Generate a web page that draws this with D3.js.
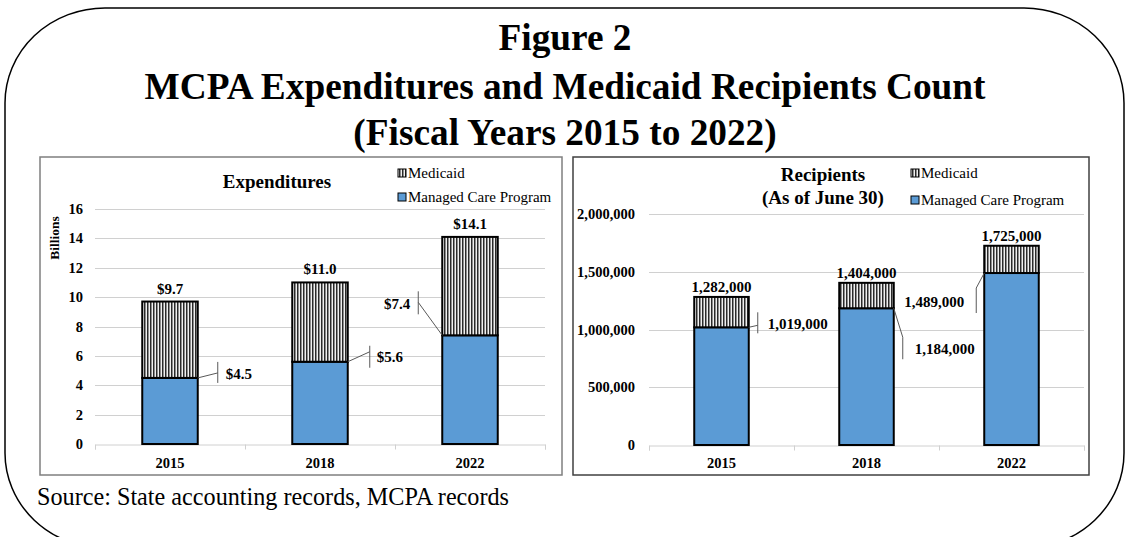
<!DOCTYPE html>
<html>
<head>
<meta charset="utf-8">
<script src="https://cdn.jsdelivr.net/npm/d3@7"></script>
<style>
html,body{margin:0;padding:0;background:#fff;}
svg{display:block;}
text{font-family:"Liberation Serif","Times New Roman",serif;}
</style>
</head>
<body>
<svg id="chart" width="1129" height="537"></svg>
<script>
// ---------------- DATA ----------------
const years = ["2015", "2018", "2022"];
const seriesNames = ["Medicaid", "Managed Care Program"];
// Expenditures (billions)
const expManagedCare = [4.5, 5.6, 7.4];
const expMedicaid = [5.2, 5.4, 6.7];
const expTotals = [9.7, 11.0, 14.1];
const expTicks = [0, 2, 4, 6, 8, 10, 12, 14, 16];
// Recipients (as of June 30)
const recManagedCare = [1019000, 1184000, 1489000];
const recMedicaid = [263000, 220000, 236000];
const recTotals = [1282000, 1404000, 1725000];
const recTicks = [0, 500000, 1000000, 1500000, 2000000];

const titleLines = ["Figure 2", "MCPA Expenditures and Medicaid Recipients Count", "(Fiscal Years 2015 to 2022)"];
const sourceText = "Source: State accounting records, MCPA records";

// ---------------- SETUP ----------------
const svg = d3.select("#chart");
const BLUE = "#5b9bd5";

const defs = svg.append("defs");
const pat = defs.append("pattern").attr("id", "vstripe")
  .attr("patternUnits", "userSpaceOnUse").attr("width", 3).attr("height", 4);
pat.append("rect").attr("width", 3).attr("height", 4).attr("fill", "#f0f0f0");
pat.append("rect").attr("width", 1.5).attr("height", 4).attr("fill", "#2a2a2a");

svg.append("rect").attr("width", 1129).attr("height", 537).attr("fill", "#fff");

// outer rounded frame
svg.append("rect").attr("x", 5).attr("y", 8).attr("width", 1119).attr("height", 540)
  .attr("rx", 100).attr("ry", 95).attr("fill", "none").attr("stroke", "#000").attr("stroke-width", 1.5);

// main titles
const titleBaselines = [50, 99, 145];
svg.selectAll("text.maintitle").data(titleLines).join("text")
  .attr("class", "maintitle")
  .attr("x", 565).attr("y", (d, i) => titleBaselines[i])
  .attr("text-anchor", "middle").attr("font-weight", "bold").attr("font-size", 37.3)
  .attr("fill", "#000").text(d => d);

svg.append("text").attr("x", 37).attr("y", 505).attr("font-size", 24.2)
  .attr("fill", "#000").text(sourceText);

// ---------------- PANEL BUILDER ----------------
function panel(cfg) {
  const g = svg.append("g");
  g.append("rect").attr("x", cfg.box[0]).attr("y", cfg.box[1])
    .attr("width", cfg.box[2]).attr("height", cfg.box[3])
    .attr("fill", "#fff").attr("stroke", cfg.boxStroke).attr("stroke-width", 1.5);

  const x = d3.scaleBand().domain(years).range([cfg.plot[0], cfg.plot[1]]).paddingInner(cfg.pad).paddingOuter(cfg.pad / 2);
  const band = d3.scaleBand().domain(years).range([cfg.plot[0], cfg.plot[1]]);
  const y = d3.scaleLinear().domain([cfg.ticks[0], cfg.ticks[cfg.ticks.length - 1]]).range([cfg.plot[2], cfg.plot[3]]);

  // gridlines
  g.selectAll("line.grid").data(cfg.ticks.slice(1)).join("line")
    .attr("x1", cfg.plot[0]).attr("x2", cfg.plot[1])
    .attr("y1", d => Math.round(y(d)) + 0.5).attr("y2", d => Math.round(y(d)) + 0.5)
    .attr("stroke", "#d0d0d0").attr("stroke-width", 1);

  // y tick labels
  g.selectAll("text.ytick").data(cfg.ticks).join("text")
    .attr("x", cfg.yLabelX).attr("y", d => y(d) + 5)
    .attr("text-anchor", "end").attr("font-weight", "bold").attr("font-size", 14.5)
    .text(d => cfg.tickFmt(d));

  // x axis
  const xAxis = d3.axisBottom(band).tickSize(5).tickFormat("");
  const ax = g.append("g").attr("transform", `translate(0,${Math.round(y(0)) + 0.5})`).call(xAxis);
  ax.select(".domain").attr("stroke", "#d0d0d0");
  ax.selectAll(".tick").remove();
  const bounds = years.map(d => band(d)).concat([cfg.plot[1]]);
  ax.selectAll("line.btick").data(bounds).join("line")
    .attr("x1", d => Math.round(d) + 0.5).attr("x2", d => Math.round(d) + 0.5)
    .attr("y1", 0).attr("y2", 5).attr("stroke", "#d0d0d0");

  g.selectAll("text.xtick").data(years).join("text")
    .attr("x", d => band(d) + band.bandwidth() / 2).attr("y", cfg.xLabelY)
    .attr("text-anchor", "middle").attr("font-weight", "bold").attr("font-size", 14.5)
    .text(d => d);

  // stacked bars
  const rows = years.map((yr, i) => ({ year: yr, "Managed Care Program": cfg.base[i], "Medicaid": cfg.top[i] }));
  const stacked = d3.stack().keys(["Managed Care Program", "Medicaid"])(rows);
  g.selectAll("g.series").data(stacked).join("g")
    .attr("fill", d => d.key === "Medicaid" ? "url(#vstripe)" : BLUE)
    .selectAll("rect").data(d => d).join("rect")
    .attr("x", d => x(d.data.year)).attr("width", x.bandwidth())
    .attr("y", d => y(d[1])).attr("height", d => y(d[0]) - y(d[1]))
    .attr("stroke", "#000").attr("stroke-width", 2);

  // total labels
  g.selectAll("text.total").data(cfg.totals).join("text")
    .attr("x", (d, i) => x(years[i]) + x.bandwidth() / 2)
    .attr("y", d => y(d) - cfg.totalOffset + 5)
    .attr("text-anchor", "middle").attr("font-weight", "bold").attr("font-size", 15)
    .text(d => cfg.totalFmt(d));

  // callouts for base segment
  cfg.base.forEach((v, i) => {
    const c = cfg.callouts[i];
    const ax0 = c.side === "right" ? x(years[i]) + x.bandwidth() : x(years[i]);
    const ay0 = y(v);
    const tx = ax0 + c.tickDx;
    g.append("line").attr("x1", ax0).attr("y1", ay0).attr("x2", tx).attr("y2", ay0 + c.joinDy)
      .attr("stroke", "#595959").attr("stroke-width", 1);
    g.append("line").attr("x1", tx).attr("x2", tx)
      .attr("y1", ay0 + c.tickDy[0]).attr("y2", ay0 + c.tickDy[1])
      .attr("stroke", "#595959").attr("stroke-width", 1);
    g.append("text").attr("x", tx + c.labelDx).attr("y", ay0 + c.labelDy + 5)
      .attr("text-anchor", c.anchor).attr("font-weight", "bold").attr("font-size", 15)
      .text(cfg.totalFmt(v));
  });

  // title
  cfg.title.forEach((t, i) => {
    g.append("text").attr("x", cfg.titleX).attr("y", cfg.titleY[i])
      .attr("text-anchor", "middle").attr("font-weight", "bold").attr("font-size", 19).text(t);
  });

  // legend
  seriesNames.forEach((s, i) => {
    g.append("rect").attr("x", cfg.legendX).attr("y", cfg.legendY[i] - 4)
      .attr("width", 8).attr("height", 8)
      .attr("fill", s === "Medicaid" ? "url(#vstripe)" : BLUE)
      .attr("stroke", "#000").attr("stroke-width", 1);
    g.append("text").attr("x", cfg.legendX + 10).attr("y", cfg.legendY[i] + 5)
      .attr("font-size", 15).text(s);
  });

  if (cfg.yTitle) {
    g.append("text").attr("transform", `translate(${cfg.yTitle.x},${cfg.yTitle.y}) rotate(-90)`)
      .attr("text-anchor", "middle").attr("font-weight", "bold").attr("font-size", 13.5)
      .text(cfg.yTitle.text);
  }
}

panel({
  box: [40, 157, 522, 318], boxStroke: "#7f7f7f",
  plot: [95, 545, 444, 209], pad: 0.63,
  ticks: expTicks, tickFmt: d => String(d), yLabelX: 83, xLabelY: 468,
  base: expManagedCare, top: expMedicaid, totals: expTotals,
  totalFmt: d3.format("$.1f"), totalOffset: 13,
  callouts: [
    { side: "right", tickDx: 20, joinDy: -5, tickDy: [-16, 5], labelDx: 8, labelDy: -4, anchor: "start" },
    { side: "right", tickDx: 22, joinDy: -10, tickDy: [-16, 6], labelDx: 7, labelDy: -5, anchor: "start" },
    { side: "left", tickDx: -24, joinDy: -33, tickDy: [-44, -21], labelDx: -8, labelDy: -31, anchor: "end" }
  ],
  title: ["Expenditures"], titleX: 277, titleY: [188],
  legendX: 398, legendY: [173, 197],
  yTitle: { x: 59, y: 238, text: "Billions" }
});

panel({
  box: [573, 157, 516, 318], boxStroke: "#404040",
  plot: [649, 1084, 445, 214], pad: 0.624,
  ticks: recTicks, tickFmt: d3.format(","), yLabelX: 635, xLabelY: 468,
  base: recManagedCare, top: recMedicaid, totals: recTotals,
  totalFmt: d3.format(","), totalOffset: 10,
  callouts: [
    { side: "right", tickDx: 9, joinDy: -2, tickDy: [-15, 6], labelDx: 10, labelDy: -3, anchor: "start" },
    { side: "right", tickDx: 9, joinDy: 29, tickDy: [29, 51], labelDx: 12, labelDy: 41, anchor: "start" },
    { side: "left", tickDx: -8, joinDy: 15, tickDy: [15, 40], labelDx: -12, labelDy: 29, anchor: "end" }
  ],
  title: ["Recipients", "(As of June 30)"], titleX: 823, titleY: [181, 204],
  legendX: 911, legendY: [173, 200]
});
</script>
</body>
</html>
